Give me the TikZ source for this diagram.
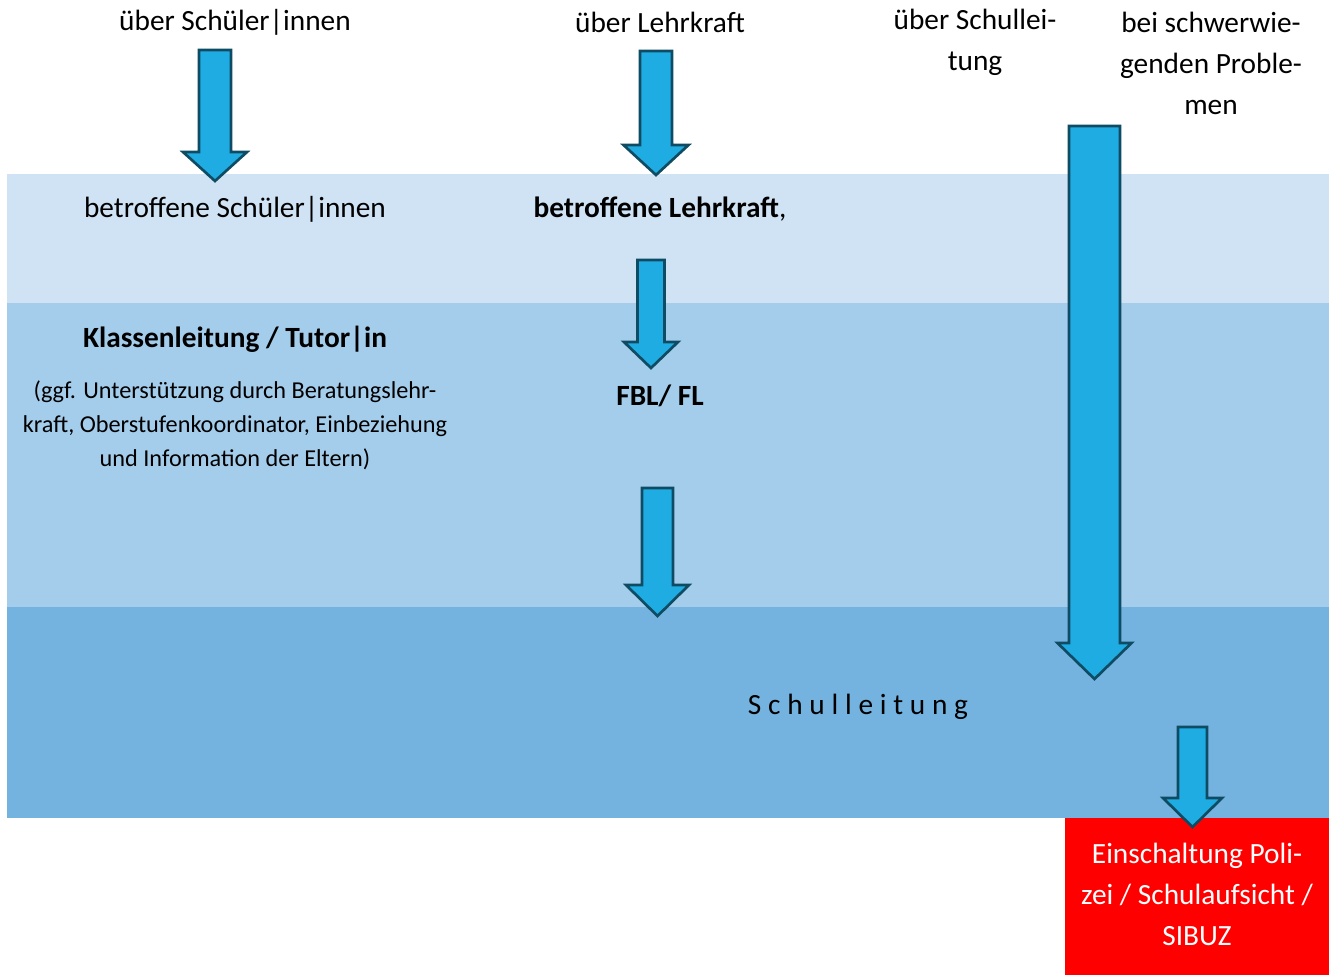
\documentclass[tikz,border=0pt]{standalone}
\usepackage{fontspec}
\setmainfont{Carlito}
\usetikzlibrary{positioning}
\definecolor{bandhell}{HTML}{CFE3F5}
\definecolor{bandmittel}{HTML}{A4CDEC}
\definecolor{banddunkel}{HTML}{74B3E0}
\definecolor{pfeilblau}{HTML}{1FACE3}
\definecolor{pfeilrand}{HTML}{0F4C64}
\definecolor{alarmrot}{HTML}{FF0000}
\tikzset{
    %Define style for labels
    beschriftung/.style={
           align=center,
           inner sep=0pt,
           font=\fontsize{22}{30.75}\selectfont},
    klein/.style={
           align=center,
           inner sep=0pt,
           font=\fontsize{18.2}{25.5}\selectfont},
    %Define style for block arrows
    blockpfeil/.style={
           fill=pfeilblau,
           draw=pfeilrand,
           line width=2pt,
           line join=miter}
}
% block arrow: x, top, half shaft, head base, half head, tip
\newcommand{\pfeil}[6]{%
  \draw[blockpfeil] (#1-#3,#2) -- (#1+#3,#2) -- (#1+#3,#4) -- (#1+#5,#4)
    -- (#1,#6) -- (#1-#5,#4) -- (#1-#3,#4) -- cycle;}
\begin{document}
\begin{tikzpicture}[x=0.75pt,y=-0.75pt]
\useasboundingbox (0,0) rectangle (1331,975);
% bands
\fill[bandhell] (7,174) rectangle (1329,303);
\fill[bandmittel] (7,303) rectangle (1329,607);
\fill[banddunkel] (7,607) rectangle (1329,818);
\fill[alarmrot] (1065,818) rectangle (1329,975);
% arrows
\pfeil{215}{50}{16}{152}{32}{181}
\pfeil{656}{51}{16}{145}{32.5}{175}
\pfeil{651}{260}{13.5}{342}{27}{368}
\pfeil{657.5}{488}{15.5}{585}{31.5}{616}
\pfeil{1094.5}{126}{25.5}{643}{37}{679}
\pfeil{1192.5}{727}{14.5}{798}{29.5}{827}
% labels
\node[beschriftung] (schueler) at (235,22) {über Schüler|innen};
\node[beschriftung] (lehrkraft) at (660,22) {über Lehrkraft};
\node[beschriftung] (schulleitung) at (975,42.5) {über Schullei-\\tung};
\node[beschriftung] (probleme) at (1211,63) {bei schwerwie-\\genden Proble-\\men};
\node[beschriftung] (betrS) at (235,209) {betroffene Schüler|innen};
\node[beschriftung] (betrL) at (660,209) {\textbf{betroffene Lehrkraft},};
\node[beschriftung] (klassen) at (235,339) {\textbf{Klassenleitung / Tutor|in}};
\node[klein] (hilfe) at (235,425.5) {(ggf. Unterstützung durch Beratungslehr-\\kraft, Oberstufenkoordinator, Einbeziehung\\und Information der Eltern)};
\node[beschriftung] (fbl) at (660,396) {\textbf{FBL/ FL}};
\node[beschriftung] (sl) at (858,707) {\addfontfeature{LetterSpace=23}Schulleitung};
\node[beschriftung, text=white] (extern) at (1197,894) {Einschaltung Poli-\\zei / Schulaufsicht /\\SIBUZ};
\end{tikzpicture}
\end{document}
